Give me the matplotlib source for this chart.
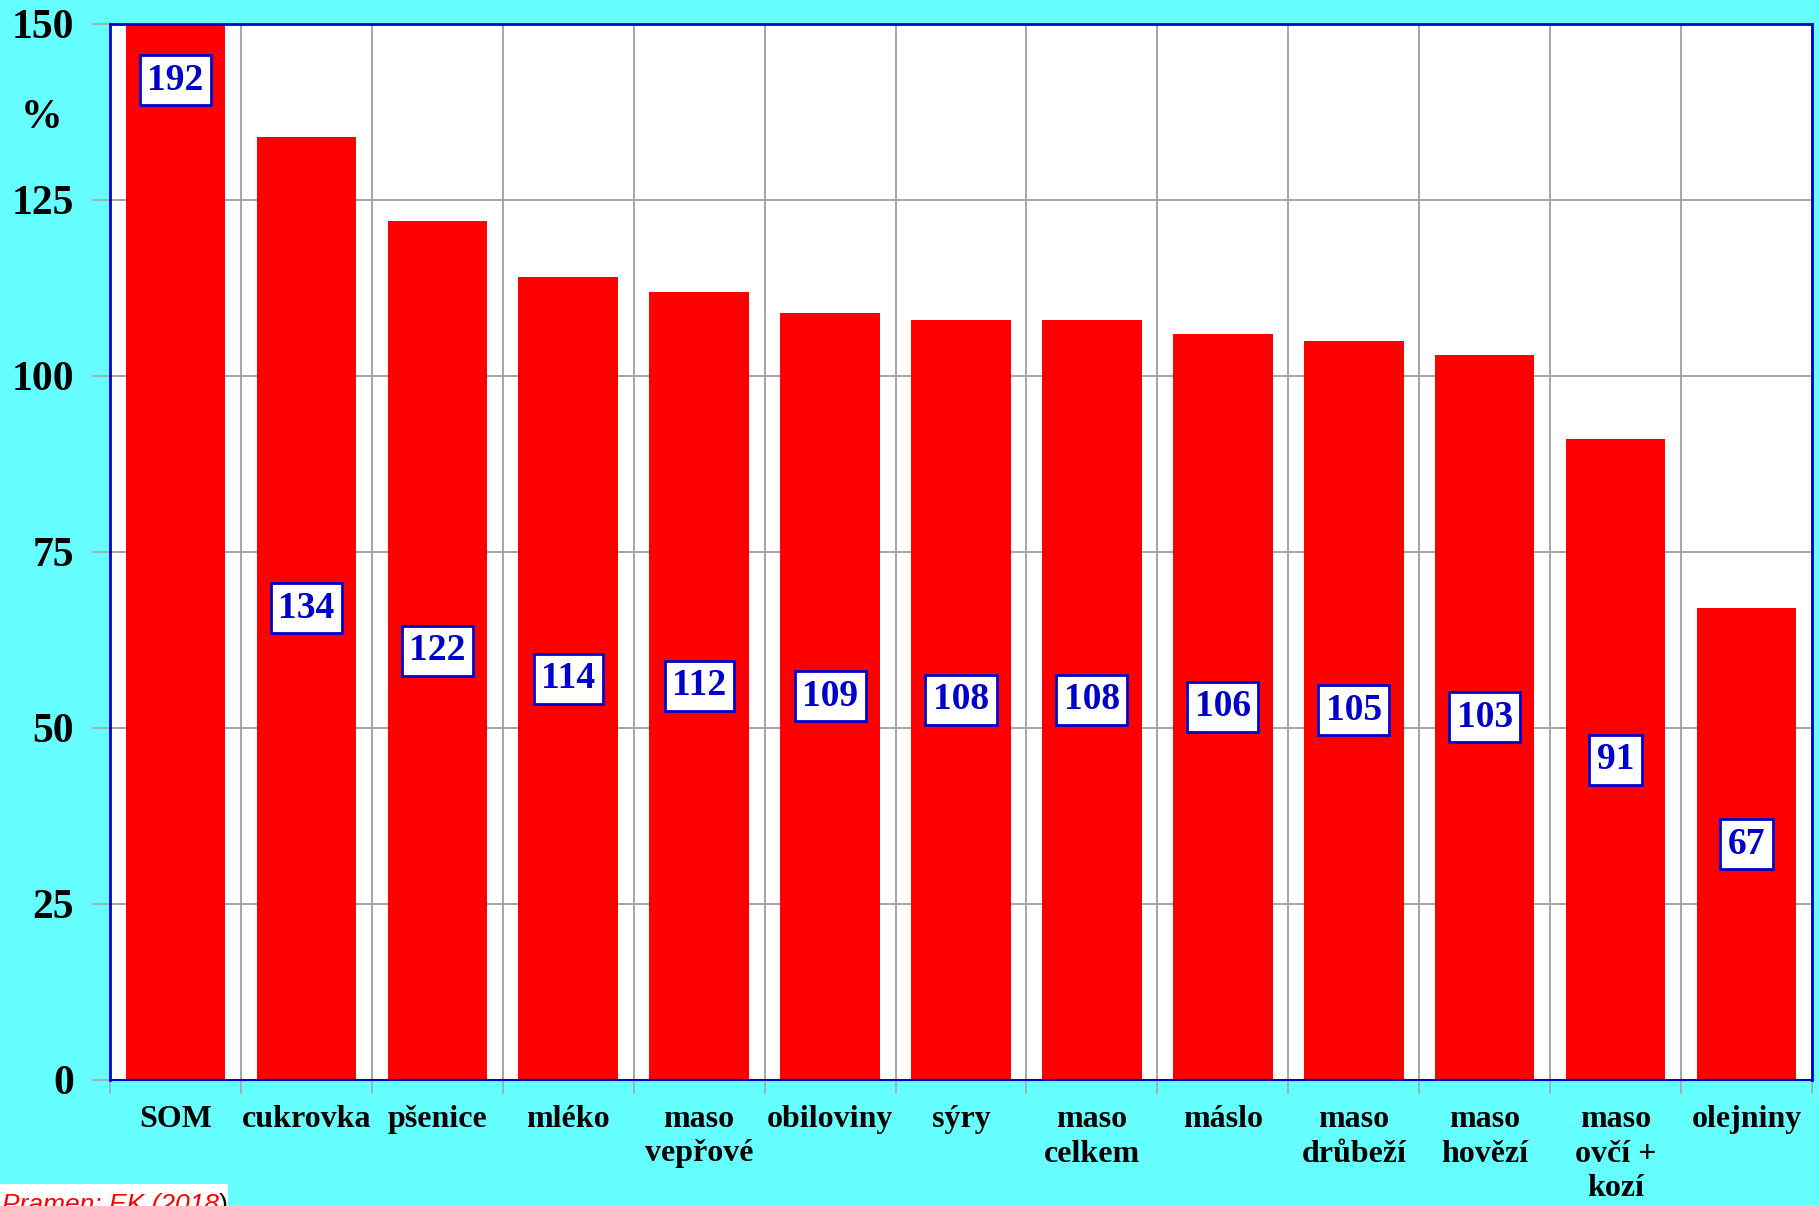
"""Bar chart: relative production by commodity (%)."""

import matplotlib.pyplot as plt
import numpy as np

CATEGORIES = [
    "SOM", "cukrovka", "pšenice", "mléko", "maso\nvepřové", "obiloviny",
    "sýry", "maso\ncelkem", "máslo", "maso\ndrůbeží", "maso\nhovězí",
    "maso\novčí +\nkozí", "olejniny",
]
VALUES = [192, 134, 122, 114, 112, 109, 108, 108, 106, 105, 103, 91, 67]
Y_TICKS = [0, 25, 50, 75, 100, 125, 150]
Y_MAX = 150

BG = "#66FFFF"
BAR = "#FF0000"
BLUE = "#0000CC"
GRID = "#A6A6A6"

plt.rcParams["font.family"] = ["Liberation Serif", "DejaVu Serif"]
plt.rcParams["font.weight"] = "bold"

fig = plt.figure(figsize=(18.19, 12.06), dpi=100, facecolor=BG)
ax = fig.add_axes([110 / 1819, 1 - 1080 / 1206, 1702 / 1819, 1056 / 1206])
ax.set_facecolor("white")

x = np.arange(len(CATEGORIES))
ax.bar(x, VALUES, width=0.76, color=BAR, zorder=2)

for xi, v in zip(x, VALUES):
    # bars taller than the axis get their label near the top
    y_lab = v / 2 if v <= Y_MAX else Y_MAX - 8
    ax.text(xi, y_lab, str(v), ha="center", va="center", fontsize=27,
            fontweight="bold", color=BLUE, zorder=4,
            bbox=dict(boxstyle="square,pad=0.2", fc="white", ec=BLUE, lw=2))

ax.set_xlim(-0.5, len(CATEGORIES) - 0.5)
ax.set_ylim(0, Y_MAX)
ax.set_yticks(Y_TICKS)
ax.set_yticklabels([str(t) for t in Y_TICKS], fontsize=30, fontweight="bold")

# ticks on category boundaries, labels in the middle
ax.set_xticks(np.arange(len(CATEGORIES) + 1) - 0.5)
ax.set_xticklabels([])
ax.set_xticks(x, minor=True)
ax.set_xticklabels(CATEGORIES, minor=True, fontsize=23, fontweight="bold",
                   va="top", linespacing=1.25)
ax.tick_params(axis="x", which="minor", length=0, pad=18)
ax.tick_params(axis="x", which="major", length=10, width=1.2, color=GRID,
               direction="out")
ax.tick_params(axis="y", length=13, width=1.2, color=GRID, pad=13)

ax.grid(True, which="major", color=GRID, lw=1.4, zorder=0)
ax.set_axisbelow(True)
for side in ["left", "right", "top", "bottom"]:
    ax.spines[side].set_color(BLUE)
    ax.spines[side].set_linewidth(2)
ax.spines["bottom"].set_linewidth(1.5)

fig.text(42 / 1819, 1 - 118 / 1206, "%", fontsize=30, fontweight="bold",
         ha="center", va="center")

src = fig.text(0.001, 1 - 1193 / 1206, "Pramen: EK (2018", fontsize=19,
               family=["Liberation Sans", "DejaVu Sans"], style="italic",
               fontweight="normal", color="red", va="top", ha="left",
               bbox=dict(boxstyle="square,pad=0.35", fc="white", ec="none"))
fig.canvas.draw()
bb = src.get_window_extent()
fig.text(bb.x1 / fig.bbox.width, 1 - 1193 / 1206, ")", fontsize=19,
         family=["Liberation Sans", "DejaVu Sans"], fontweight="normal",
         color="black", va="top", ha="left")

fig.savefig("out.png", dpi=100, facecolor=BG)
